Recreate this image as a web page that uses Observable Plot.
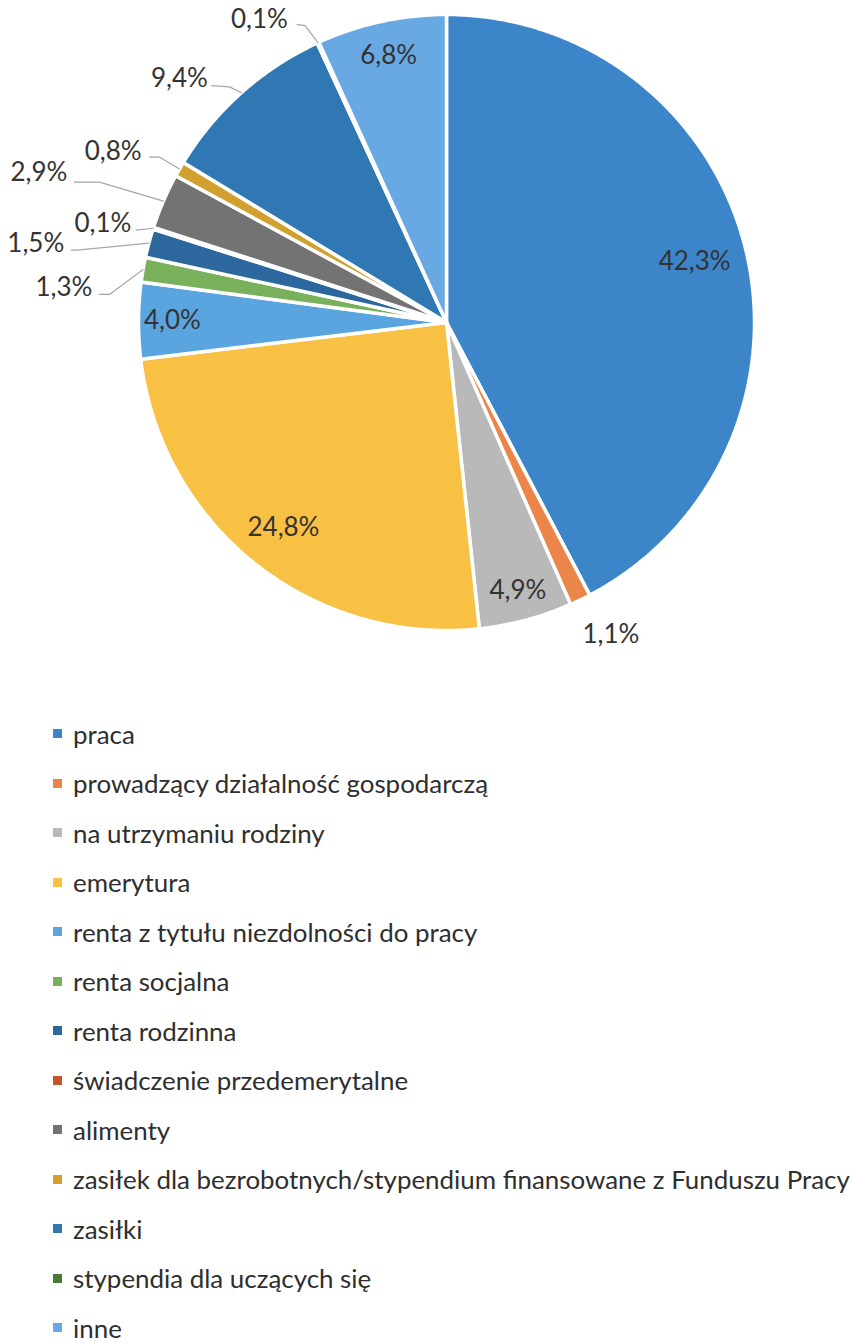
<!DOCTYPE html>
<html><head><meta charset="utf-8">
<script src="https://cdn.jsdelivr.net/npm/d3@7"></script>
<script src="https://cdn.jsdelivr.net/npm/@observablehq/plot@0.6"></script>
<style>
body{margin:0;background:#fff;font-family:Lato,sans-serif;overflow:hidden;}
#legend{padding-left:53px}
.row{height:49.5px;display:flex;align-items:center;color:#2e2e2e;white-space:nowrap}
.sw{width:9px;height:9px;margin-right:11px;flex:none}
</style></head><body><div id="chart"></div><div id="legend"></div>
<script>
const categories = [
  "praca",
  "prowadzący działalność gospodarczą",
  "na utrzymaniu rodziny",
  "emerytura",
  "renta z tytułu niezdolności do pracy",
  "renta socjalna",
  "renta rodzinna",
  "świadczenie przedemerytalne",
  "alimenty",
  "zasiłek dla bezrobotnych/stypendium finansowane z Funduszu Pracy",
  "zasiłki",
  "stypendia dla uczących się",
  "inne"
];
const shares = [42.3, 1.1, 4.9, 24.8, 4.0, 1.3, 1.5, 0.1, 2.9, 0.8, 9.4, 0.1, 6.8];
const colors = ["#3D85C9", "#EB8549", "#B9B9B9", "#F9C143", "#5AA5E0", "#79B05B", "#2C679E",
                "#C8532A", "#737373", "#D2A02E", "#2F78B3", "#4A7A34", "#68A9E3"];

// label layout (in pie-radius units): inside labels radial factor
const insideFactor = {0: 0.83, 2: 0.90, 3: 0.85, 4: 0.89, 12: 0.886};
// outside labels: text anchor T, leader elbow E, leader end L (pie-radius units)
const outsideLayout = {
  1:  {T: [0.534, -1.013], anchor: "middle"},
  7:  {T: [-1.023, 0.322], E: [-1.007, 0.300], L: [-1.007, 0.300]},
  6:  {T: [-1.241, 0.257], E: [-1.200, 0.235], L: [-1.218, 0.235]},
  5:  {T: [-1.150, 0.114], E: [-1.094, 0.091], L: [-1.127, 0.091]},
  8:  {T: [-1.231, 0.485], E: [-1.127, 0.456], L: [-1.208, 0.456]},
  9:  {T: [-0.990, 0.554], E: [-0.932, 0.537], L: [-0.964, 0.537]},
  10: {T: [-0.775, 0.792], E: [-0.704, 0.765], L: [-0.762, 0.769]},
  11: {T: [-0.515, 0.984], E: [-0.459, 0.964], L: [-0.485, 0.967]}
};

const fmt = v => d3.format(".1f")(v).replace(".", ",") + "%";
const total = d3.sum(shares);
let acc = 0;
const slices = shares.map((v, i) => {
  const a0 = acc / total * 2 * Math.PI; acc += v;
  const a1 = acc / total * 2 * Math.PI;
  return {i, cat: categories[i], v, a0, a1, mid: (a0 + a1) / 2};
});
const poly = [];
slices.forEach(s => {
  poly.push({cat: s.cat, x: 0, y: 0});
  const n = Math.max(2, Math.ceil((s.a1 - s.a0) / (Math.PI / 360)));
  for (let k = 0; k <= n; k++) {
    const a = s.a0 + (s.a1 - s.a0) * k / n;
    poly.push({cat: s.cat, x: Math.sin(a), y: Math.cos(a)});
  }
  poly.push({cat: s.cat, x: 0, y: 0});
});
const inside = slices.filter(s => insideFactor[s.i] != null).map(s => ({
  x: insideFactor[s.i] * Math.sin(s.mid), y: insideFactor[s.i] * Math.cos(s.mid), label: fmt(s.v)
}));
const outsideEnd = [], outsideMid = [], leaders = [];
slices.forEach(s => {
  const o = outsideLayout[s.i]; if (!o) return;
  const t = {x: o.T[0], y: o.T[1], label: fmt(s.v)};
  if (o.anchor === "middle") outsideMid.push(t); else outsideEnd.push(t);
  if (o.E) {
    leaders.push({cat: s.cat, x: Math.sin(s.mid), y: Math.cos(s.mid)});
    leaders.push({cat: s.cat, x: o.E[0], y: o.E[1]});
    leaders.push({cat: s.cat, x: o.L[0], y: o.L[1]});
  }
});

const CX = 446, CY = 322, R = 308;
const labelStyle = {fontSize: 26, fontFamily: "Lato", fill: "#333333"};
const plot = Plot.plot({
  width: 852, height: 709, margin: 0,
  x: {domain: [-1, 1], range: [CX - R, CX + R], axis: null},
  y: {domain: [-1, 1], range: [CY + R, CY - R], axis: null},
  color: {domain: categories, range: colors},
  marks: [
    Plot.line(poly, {x: "x", y: "y", z: "cat", fill: "cat", stroke: "white", strokeWidth: 3.5, strokeLinejoin: "miter", curve: "linear"}),
    Plot.line(leaders, {x: "x", y: "y", z: "cat", stroke: "#a6a6a6", strokeWidth: 1.2, curve: "linear"}),
    Plot.text(inside, {x: "x", y: "y", text: "label", ...labelStyle}),
    Plot.text(outsideEnd, {x: "x", y: "y", text: "label", ...labelStyle, textAnchor: "end"}),
    Plot.text(outsideMid, {x: "x", y: "y", text: "label", ...labelStyle, textAnchor: "middle"})
  ]
});
document.getElementById("chart").appendChild(plot);

// legend
const ctx = document.createElement("canvas").getContext("2d");
ctx.font = "20px Lato";
const longest = categories[9];
const legendSize = 20 * 777 / ctx.measureText(longest).width;
const legend = document.getElementById("legend");
categories.forEach((c, i) => {
  const row = document.createElement("div"); row.className = "row";
  row.style.fontSize = legendSize + "px";
  const sw = document.createElement("span"); sw.className = "sw"; sw.style.background = colors[i];
  const tx = document.createElement("span"); tx.textContent = c;
  row.appendChild(sw); row.appendChild(tx); legend.appendChild(row);
});
</script></body></html>
